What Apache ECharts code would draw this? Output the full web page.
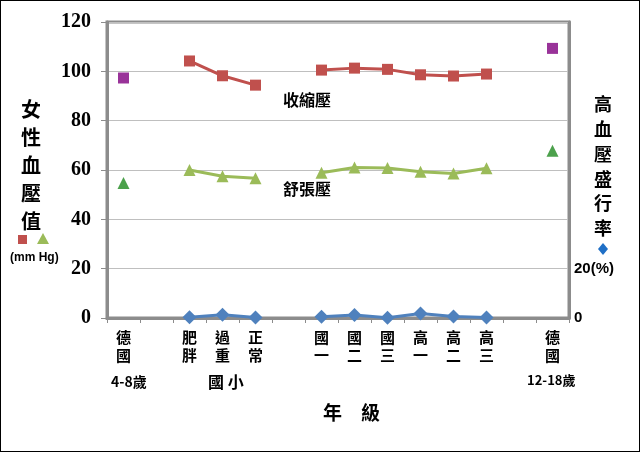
<!DOCTYPE html>
<html>
<head>
<meta charset="utf-8">
<script src="https://cdn.jsdelivr.net/npm/echarts@6/dist/echarts.min.js"></script>
<style>
  html, body { margin: 0; padding: 0; background: #fff; }
  #main { width: 638px; height: 450px; border: 1px solid #000; }
</style>
</head>
<body>
<div id="main"></div>
<script>
// categories (empty strings are the gaps between groups)
const categories = ['德國', '', '肥胖', '過重', '正常', '', '國一', '國二', '國三', '高一', '高二', '高三', '', '德國']

// 收縮壓 (Taiwan groups)
const systolic = [null, null, 104.2, 98.2, 94.4, null, 100.5, 101.3, 100.8, 98.6, 98.1, 98.9, null, null]
// 舒張壓
const diastolic = [null, null, 60.0, 57.5, 56.7, null, 58.9, 61.0, 60.8, 59.3, 58.6, 60.7, null, null]
// 高血壓盛行率 (%)
const prevalence = [null, null, 0.3, 1.3, 0.2, null, 0.5, 1.2, 0.1, 1.8, 0.6, 0.2, null, null]
// 德國 reference values
const germanSystolic = [97.3, null, null, null, null, null, null, null, null, null, null, null, null, 109.3]
const germanDiastolic = [54.7, null, null, null, null, null, null, null, null, null, null, null, null, 67.8]

const leftTicks = [0, 20, 40, 60, 80, 100, 120]

const serifBold = '"Liberation Serif", "Noto Sans CJK TC", serif'
const cjk = '"Noto Sans CJK TC", sans-serif'

const chart = echarts.init(document.getElementById('main'))

chart.setOption({
  animation: false,
  grid: {
    left: 106, right: 70, top: 21, bottom: 133,
    show: true, borderColor: '#8c8c8c', borderWidth: 3
  },
  xAxis: {
    type: 'category',
    data: categories,
    boundaryGap: true,
    axisLine: { lineStyle: { color: '#8c8c8c', width: 3 } },
    axisTick: { show: true, length: 5, lineStyle: { color: '#8c8c8c', width: 1 } },
    axisLabel: {
      interval: 0,
      margin: 10,
      color: '#000',
      fontFamily: cjk,
      fontWeight: 'bold',
      fontSize: 15,
      lineHeight: 18,
      formatter: v => v.split('').join('\n')
    }
  },
  yAxis: [
    {
      type: 'value',
      min: 0, max: 120, interval: 20,
      axisLine: { show: true, lineStyle: { color: '#8c8c8c', width: 3 } },
      axisTick: { show: true, length: 6, lineStyle: { color: '#8c8c8c' } },
      splitLine: { lineStyle: { color: '#bfbfbf', width: 1 } },
      axisLabel: {
        color: '#000', fontFamily: serifBold, fontWeight: 'bold', fontSize: 20, margin: 16,
        formatter: v => leftTicks.includes(v) ? String(v) : ''
      }
    },
    {
      type: 'value',
      min: 0, max: 120, interval: 20,
      position: 'right',
      axisLine: { show: true, lineStyle: { color: '#8c8c8c', width: 3 } },
      axisTick: { show: false },
      splitLine: { show: false },
      axisLabel: {
        color: '#000', fontFamily: '"Liberation Sans", sans-serif', fontWeight: 'bold', fontSize: 15, margin: 5,
        formatter: v => v === 0 ? '0' : (v === 20 ? '20(%)' : '')
      }
    }
  ],
  series: [
    {
      name: '收縮壓', type: 'line', data: systolic, connectNulls: false,
      symbol: 'rect', symbolSize: 11,
      itemStyle: { color: '#c0504d' }, lineStyle: { color: '#c0504d', width: 3 }
    },
    {
      name: '舒張壓', type: 'line', data: diastolic, connectNulls: false,
      symbol: 'triangle', symbolSize: 12,
      itemStyle: { color: '#9bbb59' }, lineStyle: { color: '#9bbb59', width: 3 }
    },
    {
      name: '高血壓盛行率', type: 'line', yAxisIndex: 1, data: prevalence, connectNulls: false,
      symbol: 'diamond', symbolSize: 14,
      itemStyle: { color: '#4f81bd' }, lineStyle: { color: '#4f81bd', width: 3 }
    },
    {
      name: '德國收縮壓', type: 'scatter', data: germanSystolic,
      symbol: 'rect', symbolSize: 11, itemStyle: { color: '#7f007f' }
    },
    {
      name: '德國舒張壓', type: 'scatter', data: germanDiastolic,
      symbol: 'triangle', symbolSize: 12, itemStyle: { color: '#1f8a1f' }
    }
  ],
  graphic: [
    { type: 'text', left: 20, top: 94, style: { text: '女\n性\n血\n壓\n值', font: 'bold 20px ' + cjk, lineHeight: 28, fill: '#000' } },
    { type: 'rect', left: 17, top: 234, shape: { width: 9, height: 9 }, style: { fill: '#c0504d' } },
    { type: 'polygon', shape: { points: [[42, 232], [48, 243], [36, 243]] }, style: { fill: '#9bbb59' } },
    { type: 'text', left: 9, top: 251, style: { text: '(mm Hg)', font: 'bold 12px "Liberation Sans", sans-serif', fill: '#000' } },
    { type: 'text', left: 593, top: 91, style: { text: '高\n血\n壓\n盛\n行\n率', font: 'bold 18px ' + cjk, lineHeight: 24.8, fill: '#000' } },
    { type: 'polygon', shape: { points: [[602, 242], [607, 248], [602, 254], [597, 248]] }, style: { fill: '#1f6fc6' } },
    { type: 'text', left: 282, top: 91, style: { text: '收縮壓', font: 'bold 16px ' + cjk, fill: '#000' } },
    { type: 'text', left: 282, top: 180, style: { text: '舒張壓', font: 'bold 16px ' + cjk, fill: '#000' } },
    { type: 'text', left: 110, top: 374, style: { text: '4-8歲', font: 'bold 14px ' + cjk, fill: '#000' } },
    { type: 'text', left: 207, top: 373, style: { text: '國 小', font: 'bold 16px ' + cjk, fill: '#000' } },
    { type: 'text', left: 526, top: 373, style: { text: '12-18歲', font: 'bold 13px ' + cjk, fill: '#000' } },
    { type: 'text', left: 322, top: 402, style: { text: '年　級', font: 'bold 19px ' + cjk, fill: '#000' } }
  ]
})
</script>
</body>
</html>
